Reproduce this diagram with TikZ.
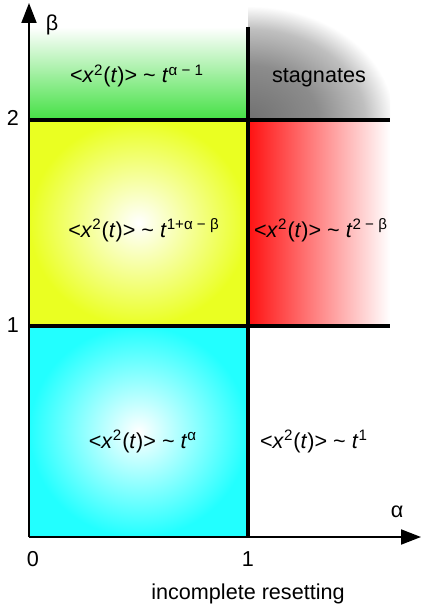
\documentclass[tikz,border=0pt]{standalone}
\usepackage{fontspec}
\setmainfont{Liberation Sans}
\usepackage{xcolor}
\definecolor{phGreen}{HTML}{44E044}
\definecolor{phYellow}{HTML}{EAFF22}
\definecolor{phRed}{HTML}{FF1111}
\definecolor{phCyan}{HTML}{22FFFF}
\usepackage{tikz}
\usetikzlibrary{arrows.meta}

\pgfdeclareradialshading{stagfade}{\pgfpoint{0bp}{0bp}}{%
  color(0bp)=(black!56); color(12bp)=(black!45); color(20bp)=(black!25);
  color(25bp)=(white); color(50bp)=(white)}

\newcommand{\msd}{<\textit{x}\textsuperscript{2}(\textit{t})> \textasciitilde\ \textit{t}}

\begin{document}
\begin{tikzpicture}[x=0.5pt, y=-0.5pt,
  border/.style={line width=2pt},
  axis/.style={line width=1pt, -{Triangle[length=10pt,width=7.5pt]}},
  lbl/.style={font=\fontsize{10.8}{12}\selectfont, anchor=base},
  tick/.style={font=\fontsize{10.8}{12}\selectfont}]
  \useasboundingbox (0,0) rectangle (422,610);
  % phase regions
  \shade[top color=white, bottom color=phGreen] (29,27) rectangle (248,120);
  \begin{scope}
    \clip (248,8) rectangle (390,120);
    \shade[shading=stagfade] (248,120) ellipse [x radius=146, y radius=114];
  \end{scope}
  \shade[inner color=white, outer color=phYellow] (29,120) rectangle (248,326);
  \shade[left color=phRed, right color=white] (248,120) rectangle (390,326);
  \shade[inner color=white, outer color=phCyan] (29,326) rectangle (248,537);
  % borders between the regions
  \coordinate (b2l) at (29,120);
  \coordinate (b2r) at (390,120);
  \coordinate (b1l) at (29,326);
  \coordinate (b1r) at (390,326);
  \coordinate (a1top) at (248,27);
  \coordinate (a1bot) at (248,537);
  \draw[border] (b2l) -- (b2r);
  \draw[border] (b1l) -- (b1r);
  \draw[border] (a1top) -- (a1bot);
  % axes
  \coordinate (O) at (29,537);
  \coordinate (xend) at (421,537);
  \coordinate (yend) at (29,3);
  \draw[axis] (O) -- (xend);
  \draw[axis] (O) -- (yend);
  \node[tick] (alpha) at (397,512) {α};
  \node[tick] (beta) at (52,25) {β};
  \node[tick] (x0) at (33,559) {0};
  \node[tick] (x1) at (248,559) {1};
  \node[tick] (y2) at (13,118) {2};
  \node[tick] (y1) at (13,325) {1};
  \node[tick] (title) at (248,594) {incomplete resetting};
  % growth laws
  \node[lbl] (green) at (137,83) {\msd\textsuperscript{α − 1}};
  \node[lbl] (grey) at (319,83) {stagnates};
  \node[lbl] (yellow) at (144,237) {\msd\textsuperscript{1+α − β}};
  \node[lbl] (red) at (321,237) {\msd\textsuperscript{2 − β}};
  \node[lbl] (cyan) at (143,448) {\msd\textsuperscript{α}};
  \node[lbl] (white) at (314,448) {\msd\textsuperscript{1}};
\end{tikzpicture}
\end{document}
